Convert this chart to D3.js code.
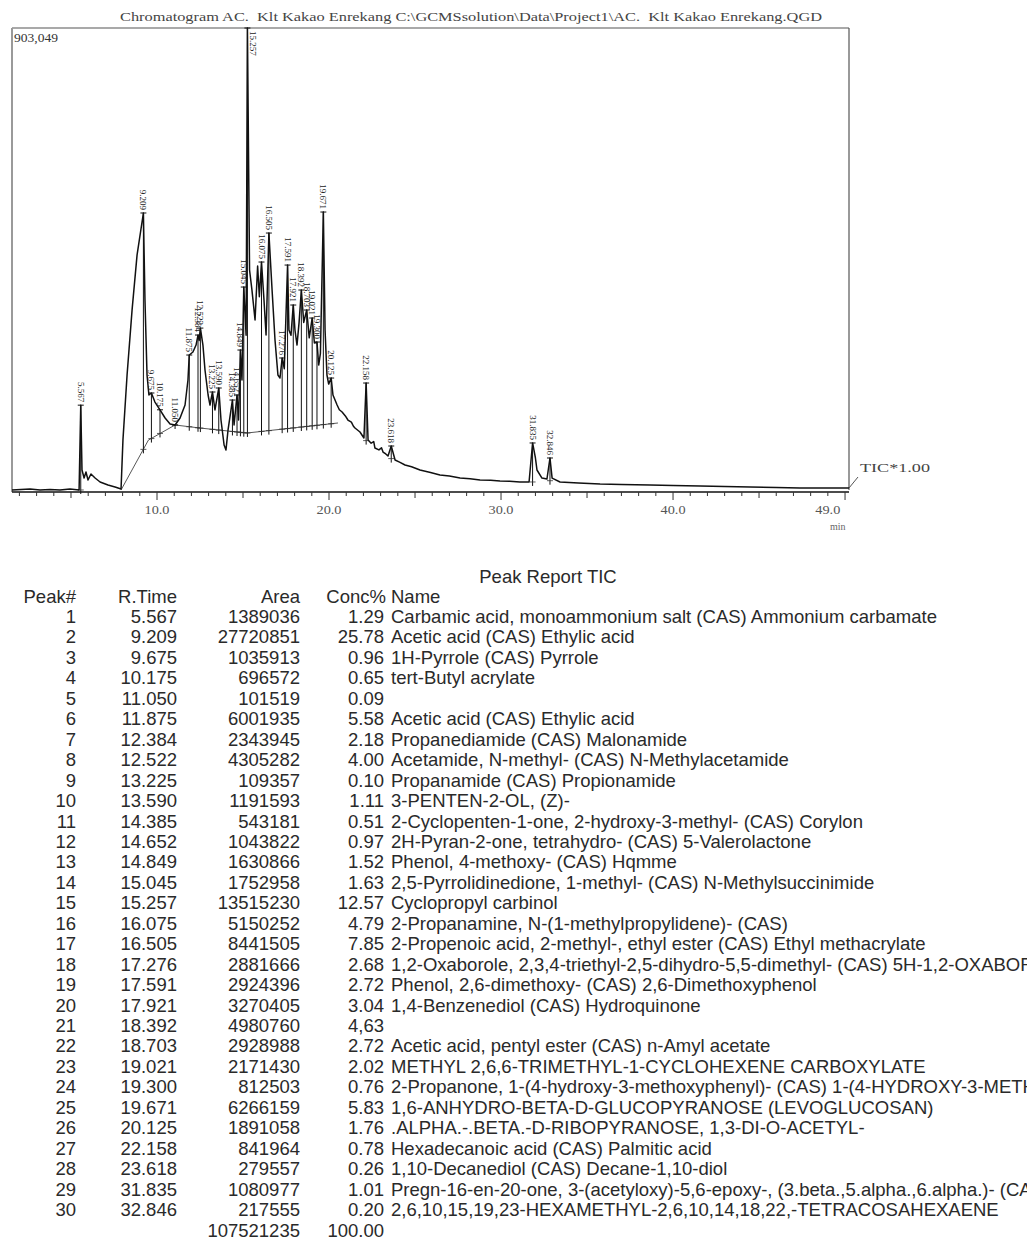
<!DOCTYPE html>
<html><head><meta charset="utf-8">
<script src="https://cdn.jsdelivr.net/npm/d3@7"></script>
<style>body{margin:0;background:#fff}svg{display:block}</style>
</head><body><svg id="c" width="1027" height="1240"></svg>
<script>
// ---------- chromatogram trace (time in min, intensity) ----------
const traceTime = [1.57,2.62,3.20,3.78,4.36,4.94,5.47,5.567,5.64,5.76,5.87,5.99,6.16,6.40,6.69,7.15,7.56,7.91,
 8.02,8.26,8.55,8.84,9.209,9.30,9.42,9.53,9.675,9.88,10.175,10.47,10.76,11.05,11.34,11.63,11.80,11.875,12.09,12.27,
 12.384,12.45,12.522,12.67,12.79,12.97,13.08,13.225,13.37,13.59,13.72,13.90,14.01,14.13,14.385,14.48,14.652,14.74,
 14.849,14.94,15.045,15.18,15.257,15.38,15.52,15.70,15.85,15.95,16.075,16.22,16.34,16.505,16.69,16.86,17.03,17.15,
 17.276,17.40,17.591,17.67,17.79,17.921,18.02,18.14,18.26,18.392,18.53,18.703,18.85,19.021,19.15,19.300,19.40,19.50,
 19.671,19.77,19.88,19.98,20.125,20.23,20.47,20.60,20.76,20.95,21.10,21.30,21.42,21.51,21.80,22.03,22.158,22.27,22.45,22.60,22.67,22.90,
 23.05,23.14,23.30,23.43,23.618,23.84,24.10,24.42,24.80,25.29,25.90,26.45,27.00,27.62,28.20,28.78,29.40,29.94,30.50,31.10,31.63,31.835,32.0,32.09,32.38,32.67,32.846,32.97,
 33.43,34.50,35.76,37.00,38.66,40.00,41.57,43.00,44.48,46.00,47.38,48.80,50.23];
const traceIntensity = [3900,5800,3900,4800,3900,5800,3900,169000,42800,27200,38900,23400,35000,27200,19500,13600,9700,5800,
 101000,227700,354000,461000,543000,373600,227700,188800,192700,175000,160000,144000,132300,130400,144000,169300,218000,266600,272400,286000,
 305500,295000,319000,286000,237400,188800,169300,194600,159600,202400,140100,91500,81700,120700,179000,130400,188800,140000,
 276300,218000,398900,305000,903049,432000,393000,334700,440000,380000,447600,373600,305500,504000,393000,295800,227700,221800,
 260800,240000,441700,315300,305000,363900,315300,286000,330000,393100,330000,354200,300000,338600,290000,291900,247100,270000,
 544900,315300,227700,210000,221800,188800,169300,160000,155700,148000,140100,136000,128000,124500,116800,105100,212100,101200,95000,98000,85600,82000,
 86000,77800,74000,70100,89500,62300,58000,52500,49000,42800,38000,33100,31000,27200,26000,23400,23000,21400,21000,19500,19500,95400,66200,42800,27200,25300,66200,27000,
 19500,17500,15600,14800,13600,12500,11700,10500,9700,8800,7800,7800,7800];

// integration baseline drawn under the peak cluster
const baseTime = [7.91,9.50,11.05,12.50,15.23,20.52];
const baseIntensity = [3900,101000,130400,124500,114800,134300];

// ---------- peak report table ----------
const peakNo = [1,2,3,4,5,6,7,8,9,10,11,12,13,14,15,16,17,18,19,20,21,22,23,24,25,26,27,28,29,30];
const rTime = ["5.567","9.209","9.675","10.175","11.050","11.875","12.384","12.522","13.225","13.590","14.385","14.652","14.849","15.045","15.257",
 "16.075","16.505","17.276","17.591","17.921","18.392","18.703","19.021","19.300","19.671","20.125","22.158","23.618","31.835","32.846"];
const area = ["1389036","27720851","1035913","696572","101519","6001935","2343945","4305282","109357","1191593","543181","1043822","1630866","1752958","13515230",
 "5150252","8441505","2881666","2924396","3270405","4980760","2928988","2171430","812503","6266159","1891058","841964","279557","1080977","217555"];
const conc = ["1.29","25.78","0.96","0.65","0.09","5.58","2.18","4.00","0.10","1.11","0.51","0.97","1.52","1.63","12.57",
 "4.79","7.85","2.68","2.72","3.04","4,63","2.72","2.02","0.76","5.83","1.76","0.78","0.26","1.01","0.20"];
const names = ["Carbamic acid, monoammonium salt (CAS) Ammonium carbamate","Acetic acid (CAS) Ethylic acid","1H-Pyrrole (CAS) Pyrrole","tert-Butyl acrylate","",
 "Acetic acid (CAS) Ethylic acid","Propanediamide (CAS) Malonamide","Acetamide, N-methyl- (CAS) N-Methylacetamide","Propanamide (CAS) Propionamide","3-PENTEN-2-OL, (Z)-",
 "2-Cyclopenten-1-one, 2-hydroxy-3-methyl- (CAS) Corylon","2H-Pyran-2-one, tetrahydro- (CAS) 5-Valerolactone","Phenol, 4-methoxy- (CAS) Hqmme",
 "2,5-Pyrrolidinedione, 1-methyl- (CAS) N-Methylsuccinimide","Cyclopropyl carbinol","2-Propanamine, N-(1-methylpropylidene)- (CAS)",
 "2-Propenoic acid, 2-methyl-, ethyl ester (CAS) Ethyl methacrylate","1,2-Oxaborole, 2,3,4-triethyl-2,5-dihydro-5,5-dimethyl- (CAS) 5H-1,2-OXABOROLE",
 "Phenol, 2,6-dimethoxy- (CAS) 2,6-Dimethoxyphenol","1,4-Benzenediol (CAS) Hydroquinone","","Acetic acid, pentyl ester (CAS) n-Amyl acetate",
 "METHYL 2,6,6-TRIMETHYL-1-CYCLOHEXENE CARBOXYLATE","2-Propanone, 1-(4-hydroxy-3-methoxyphenyl)- (CAS) 1-(4-HYDROXY-3-METHOXYPHENYL)-2-PROPANONE",
 "1,6-ANHYDRO-BETA-D-GLUCOPYRANOSE (LEVOGLUCOSAN)",".ALPHA.-.BETA.-D-RIBOPYRANOSE, 1,3-DI-O-ACETYL-","Hexadecanoic acid (CAS) Palmitic acid",
 "1,10-Decanediol (CAS) Decane-1,10-diol","Pregn-16-en-20-one, 3-(acetyloxy)-5,6-epoxy-, (3.beta.,5.alpha.,6.alpha.)- (CAS)",
 "2,6,10,15,19,23-HEXAMETHYL-2,6,10,14,18,22,-TETRACOSAHEXAENE"];
const totalArea = "107521235", totalConc = "100.00";

// apex and base intensities of each labelled peak
const peakApex = [169000,543000,192700,160000,130400,266600,305500,319000,194600,202400,179000,188800,276300,398900,903049,
 447600,504000,260800,441700,363900,393100,354200,338600,291900,544900,221800,212100,89500,95400,66200];
const peakBase = [3900,83000,104000,114000,130400,127000,125000,124400,122000,120500,117800,116800,116100,115400,114900,
 117900,119500,122300,123500,124700,126500,127600,128800,129800,131200,132800,100000,65000,19500,22000];

const xTickLabels = ["10.0","20.0","30.0","40.0","49.0"];
const xTickValues = [10,20,30,40,49];
const yMaxLabel = "903,049";
const title = "Chromatogram AC.  Klt Kakao Enrekang C:\\GCMSsolution\\Data\\Project1\\AC.  Klt Kakao Enrekang.QGD";

// ---------- drawing ----------
const svg = d3.select("#c");
const L = 12, R = 849, T = 28, B = 492;
const x = d3.scaleLinear().domain([1.57, 50.23]).range([L, R]);
const y = d3.scaleLinear().domain([0, 903049]).range([B, T]);
const serif = "'Liberation Serif','Times New Roman',serif";
const sans = "'Liberation Sans',Arial,sans-serif";

// title
svg.append("text").attr("x", 120).attr("y", 21).attr("font-family", serif).attr("font-size", 12.5)
  .style("white-space", "pre")
  .attr("fill", "#444").attr("textLength", 702).attr("lengthAdjust", "spacingAndGlyphs").text(title);

// frame
svg.append("line").attr("x1", L).attr("x2", R).attr("y1", T).attr("y2", T).attr("stroke", "#555").attr("stroke-width", 1.2);
svg.append("line").attr("x1", R).attr("x2", R).attr("y1", T).attr("y2", B - 2).attr("stroke", "#555").attr("stroke-width", 1.2);
svg.append("line").attr("x1", L).attr("x2", L).attr("y1", T).attr("y2", B).attr("stroke", "#9a9a9a").attr("stroke-width", 2);

svg.append("text").attr("x", 14).attr("y", 42).attr("font-family", serif).attr("font-size", 12).attr("fill", "#333")
  .attr("textLength", 44).attr("lengthAdjust", "spacingAndGlyphs").text(yMaxLabel);

// x axis
svg.append("line").attr("x1", L).attr("x2", R).attr("y1", B).attr("y2", B).attr("stroke", "#111").attr("stroke-width", 1.3);
const minorTicks = d3.range(2, 51, 1);
svg.append("g").selectAll("line").data(minorTicks).join("line")
  .attr("x1", d => x(d)).attr("x2", d => x(d)).attr("y1", B)
  .attr("y2", d => B + (d % 10 === 0 ? 8 : d % 5 === 0 ? 6 : 4))
  .attr("stroke", "#333").attr("stroke-width", 1);
svg.append("g").selectAll("text").data(xTickValues).join("text")
  .attr("x", d => x(d)).attr("y", B + 22).attr("text-anchor", "middle")
  .attr("font-family", serif).attr("font-size", 13).attr("fill", "#555")
  .attr("textLength", 25).attr("lengthAdjust", "spacingAndGlyphs")
  .text((d, i) => xTickLabels[i]);
svg.append("text").attr("x", x(49) + 10).attr("y", B + 38).attr("text-anchor", "middle")
  .attr("font-family", serif).attr("font-size", 10).attr("fill", "#666").text("min");

// TIC label
svg.append("line").attr("x1", R).attr("y1", B - 4).attr("x2", R + 9).attr("y2", B - 15).attr("stroke", "#555");
svg.append("text").attr("x", 860).attr("y", 472).attr("font-family", serif).attr("font-size", 12).attr("fill", "#444")
  .attr("textLength", 70).attr("lengthAdjust", "spacingAndGlyphs").text("TIC*1.00");

// integration baseline
const line = d3.line().x(d => x(d[0])).y(d => y(d[1]));
svg.append("path").datum(d3.zip(baseTime, baseIntensity)).attr("d", line)
  .attr("fill", "none").attr("stroke", "#444").attr("stroke-width", 0.9);

// peak markers
const peaks = d3.range(rTime.length).map(i => ({t: +rTime[i], lab: rTime[i], top: peakApex[i], base: peakBase[i]}));
svg.append("g").selectAll("line").data(peaks).join("line")
  .attr("x1", d => x(d.t)).attr("x2", d => x(d.t))
  .attr("y1", d => y(d.base) + 4).attr("y2", d => y(d.top))
  .attr("stroke", "#111").attr("stroke-width", 1);
svg.append("g").selectAll("line").data(peaks).join("line")
  .attr("x1", d => x(d.t) - 3).attr("x2", d => x(d.t) + 3)
  .attr("y1", d => y(d.top)).attr("y2", d => y(d.top))
  .attr("stroke", "#111").attr("stroke-width", 1);
svg.append("g").selectAll("line").data(peaks).join("line")
  .attr("x1", d => x(d.t) - 3).attr("x2", d => x(d.t) + 3)
  .attr("y1", d => y(d.base)).attr("y2", d => y(d.base))
  .attr("stroke", "#333").attr("stroke-width", 0.8);

// trace
svg.append("path").datum(d3.zip(traceTime, traceIntensity)).attr("d", line)
  .attr("fill", "none").attr("stroke", "#111").attr("stroke-width", 1.5).attr("stroke-linejoin", "round");

// peak labels (rotated)
svg.append("g").selectAll("text").data(peaks).join("text")
  .attr("transform", d => {
    const px = x(d.t), py = d.top >= 903049 ? T + 3 : y(d.top) - 3;
    const ox = d.top >= 903049 ? px + 6 : px;
    return `translate(${ox},${py}) rotate(90)`;
  })
  .attr("text-anchor", d => d.top >= 903049 ? "start" : "end")
  .attr("dy", "0.33em")
  .attr("font-family", serif).attr("font-size", 9).attr("fill", "#222")
  .text(d => d.lab);

// ---------- peak report table ----------
const tg = svg.append("g").attr("font-family", sans).attr("font-size", 18.5).attr("fill", "#2a2a2a");
tg.append("text").attr("x", 548).attr("y", 583).attr("text-anchor", "middle").text("Peak Report TIC");
const cols = [{x: 76, a: "end", h: "Peak#"}, {x: 177, a: "end", h: "R.Time"}, {x: 300, a: "end", h: "Area"}, {x: 386, a: "end", h: "Conc%"}, {x: 391, a: "start", h: "Name"}];
cols.forEach(c => tg.append("text").attr("x", c.x).attr("y", 603).attr("text-anchor", c.a).text(c.h));
const rowY = i => 623 + i * 20.45;
const rows = tg.selectAll("g.row").data(peakNo).join("g").attr("class", "row");
rows.append("text").attr("x", 76).attr("y", (d, i) => rowY(i)).attr("text-anchor", "end").text(d => d);
rows.append("text").attr("x", 177).attr("y", (d, i) => rowY(i)).attr("text-anchor", "end").text((d, i) => rTime[i]);
rows.append("text").attr("x", 300).attr("y", (d, i) => rowY(i)).attr("text-anchor", "end").text((d, i) => area[i]);
rows.append("text").attr("x", 384).attr("y", (d, i) => rowY(i)).attr("text-anchor", "end").text((d, i) => conc[i]);
rows.append("text").attr("x", 391).attr("y", (d, i) => rowY(i)).attr("text-anchor", "start").text((d, i) => names[i]);
tg.append("text").attr("x", 300).attr("y", rowY(30)).attr("text-anchor", "end").text(totalArea);
tg.append("text").attr("x", 384).attr("y", rowY(30)).attr("text-anchor", "end").text(totalConc);
</script></body></html>
